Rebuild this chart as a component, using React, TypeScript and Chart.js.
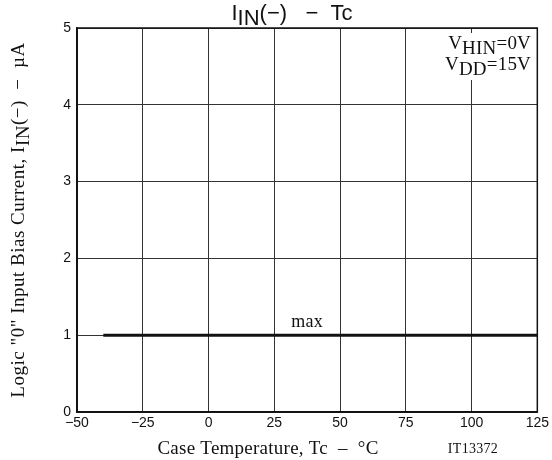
import React, { useEffect, useRef } from "react";
import { Chart, registerables } from "chart.js";

Chart.register(...registerables);

const xTicks = [-50, -25, 0, 25, 50, 75, 100, 125];
const yTicks = [0, 1, 2, 3, 4, 5];
const maxTemps = [-40, 125];
const maxCurrent = [1, 1];
const maxLabel = { text: "max", x: 37.5, y: 1.17 };

const SERIF = '"Liberation Serif", "Times New Roman", serif';
const SANS = '"Liberation Sans", Arial, sans-serif';

type Part = { t: string; sub?: boolean };

function setFont(ctx: CanvasRenderingContext2D, size: number, family: string, spacing: number) {
  ctx.font = `${size}px ${family}`;
  (ctx as any).letterSpacing = `${spacing}px`;
}

function richWidth(ctx: CanvasRenderingContext2D, parts: Part[], size: number, family: string, spacing: number) {
  let w = 0;
  for (const p of parts) {
    setFont(ctx, size, family, spacing);
    w += ctx.measureText(p.t).width;
  }
  return w;
}

function drawRich(
  ctx: CanvasRenderingContext2D,
  parts: Part[],
  x: number,
  y: number,
  size: number,
  family: string,
  align: "left" | "center" | "right",
  subShift: number,
  spacing = 0
) {
  const w = richWidth(ctx, parts, size, family, spacing);
  let cx = align === "left" ? x : align === "center" ? x - w / 2 : x - w;
  ctx.textAlign = "left";
  ctx.textBaseline = "alphabetic";
  for (const p of parts) {
    setFont(ctx, size, family, spacing);
    ctx.fillText(p.t, cx, p.sub ? y + subShift : y);
    cx += ctx.measureText(p.t).width;
  }
  (ctx as any).letterSpacing = "0px";
}

const textPlugin = {
  id: "textPlugin",
  afterDraw(chart: any) {
    const ctx: CanvasRenderingContext2D = chart.ctx;
    const { left, right, top, bottom } = chart.chartArea;
    const xs = chart.scales.x;
    const ys = chart.scales.y;
    ctx.save();
    // annotation white box
    ctx.fillStyle = "#fff";
    ctx.fillRect(424, 33, right - 424 - 1, 47);
    // frame
    ctx.strokeStyle = "#111";
    ctx.lineWidth = 1.5;
    ctx.strokeRect(left, top, right - left, bottom - top);

    ctx.fillStyle = "#111";
    // title
    drawRich(
      ctx,
      [{ t: "I" }, { t: "IN", sub: true }, { t: "(\u2212)   \u2212  Tc" }],
      292,
      20,
      22,
      SANS,
      "center",
      5
    );
    // conditions
    drawRich(ctx, [{ t: "V" }, { t: "HIN", sub: true }, { t: "=0V" }], 531, 49, 19, SERIF, "right", 5, 0.2);
    drawRich(ctx, [{ t: "V" }, { t: "DD", sub: true }, { t: "=15V" }], 531, 70, 19, SERIF, "right", 5, 0.2);
    // max label
    setFont(ctx, 18, SERIF, 0.3);
    ctx.textAlign = "center";
    ctx.textBaseline = "middle";
    ctx.fillText(maxLabel.text, xs.getPixelForValue(maxLabel.x), ys.getPixelForValue(maxLabel.y));
    // x axis title
    setFont(ctx, 19, SERIF, 0.25);
    ctx.fillText("Case Temperature, Tc  \u2013  \u00B0C", 268, 449);
    setFont(ctx, 14, SERIF, 0.3);
    ctx.fillText("IT13372", 473, 449);
    (ctx as any).letterSpacing = "0px";
    // y axis title
    ctx.translate(18, 220);
    ctx.rotate(-Math.PI / 2);
    drawRich(
      ctx,
      [{ t: 'Logic "0" Input Bias Current, I' }, { t: "IN", sub: true }, { t: "(\u2212)  \u2212  \u00B5A" }],
      0,
      6,
      19,
      SERIF,
      "center",
      5,
      0.5
    );
    ctx.restore();
  },
};

export default function App() {
  const ref = useRef<HTMLCanvasElement>(null);
  useEffect(() => {
    if (!ref.current) return;
    const chart = new Chart(ref.current, {
      type: "line",
      data: {
        datasets: [
          {
            data: maxTemps.map((t, i) => ({ x: t, y: maxCurrent[i] })),
            borderColor: "#111",
            borderWidth: 3,
            pointRadius: 0,
            fill: false,
          },
        ],
      },
      options: {
        animation: false,
        responsive: false,
        maintainAspectRatio: false,
        layout: { padding: { left: 0, right: 14, top: 28, bottom: 0 } },
        plugins: { legend: { display: false }, tooltip: { enabled: false }, title: { display: false } },
        scales: {
          x: {
            type: "linear",
            min: xTicks[0],
            max: xTicks[xTicks.length - 1],
            afterBuildTicks: (s: any) => {
              s.ticks = xTicks.map((v) => ({ value: v }));
            },
            afterFit: (s: any) => {
              s.height = 48;
            },
            grid: { color: "#333", lineWidth: 1, drawTicks: false },
            border: { color: "#111", width: 1.5 },
            ticks: {
              padding: 3,
              color: "#111",
              font: { family: SANS, size: 14 },
              callback: (v: any) => String(v).replace("-", "\u2212"),
            },
          },
          y: {
            type: "linear",
            min: yTicks[0],
            max: yTicks[yTicks.length - 1],
            afterBuildTicks: (s: any) => {
              s.ticks = yTicks.map((v) => ({ value: v }));
            },
            afterFit: (s: any) => {
              s.width = 77;
            },
            grid: { color: "#333", lineWidth: 1, drawTicks: false },
            border: { color: "#111", width: 1.5 },
            ticks: {
              padding: 6,
              color: "#111",
              font: { family: SANS, size: 14 },
            },
          },
        },
      },
      plugins: [textPlugin],
    } as any);
    return () => chart.destroy();
  }, []);
  return (
    <div style={{ position: "fixed", left: 0, top: 0, width: 552, height: 460, background: "#fff" }}>
      <canvas ref={ref} width={552} height={460} style={{ width: 552, height: 460 }} />
    </div>
  );
}
